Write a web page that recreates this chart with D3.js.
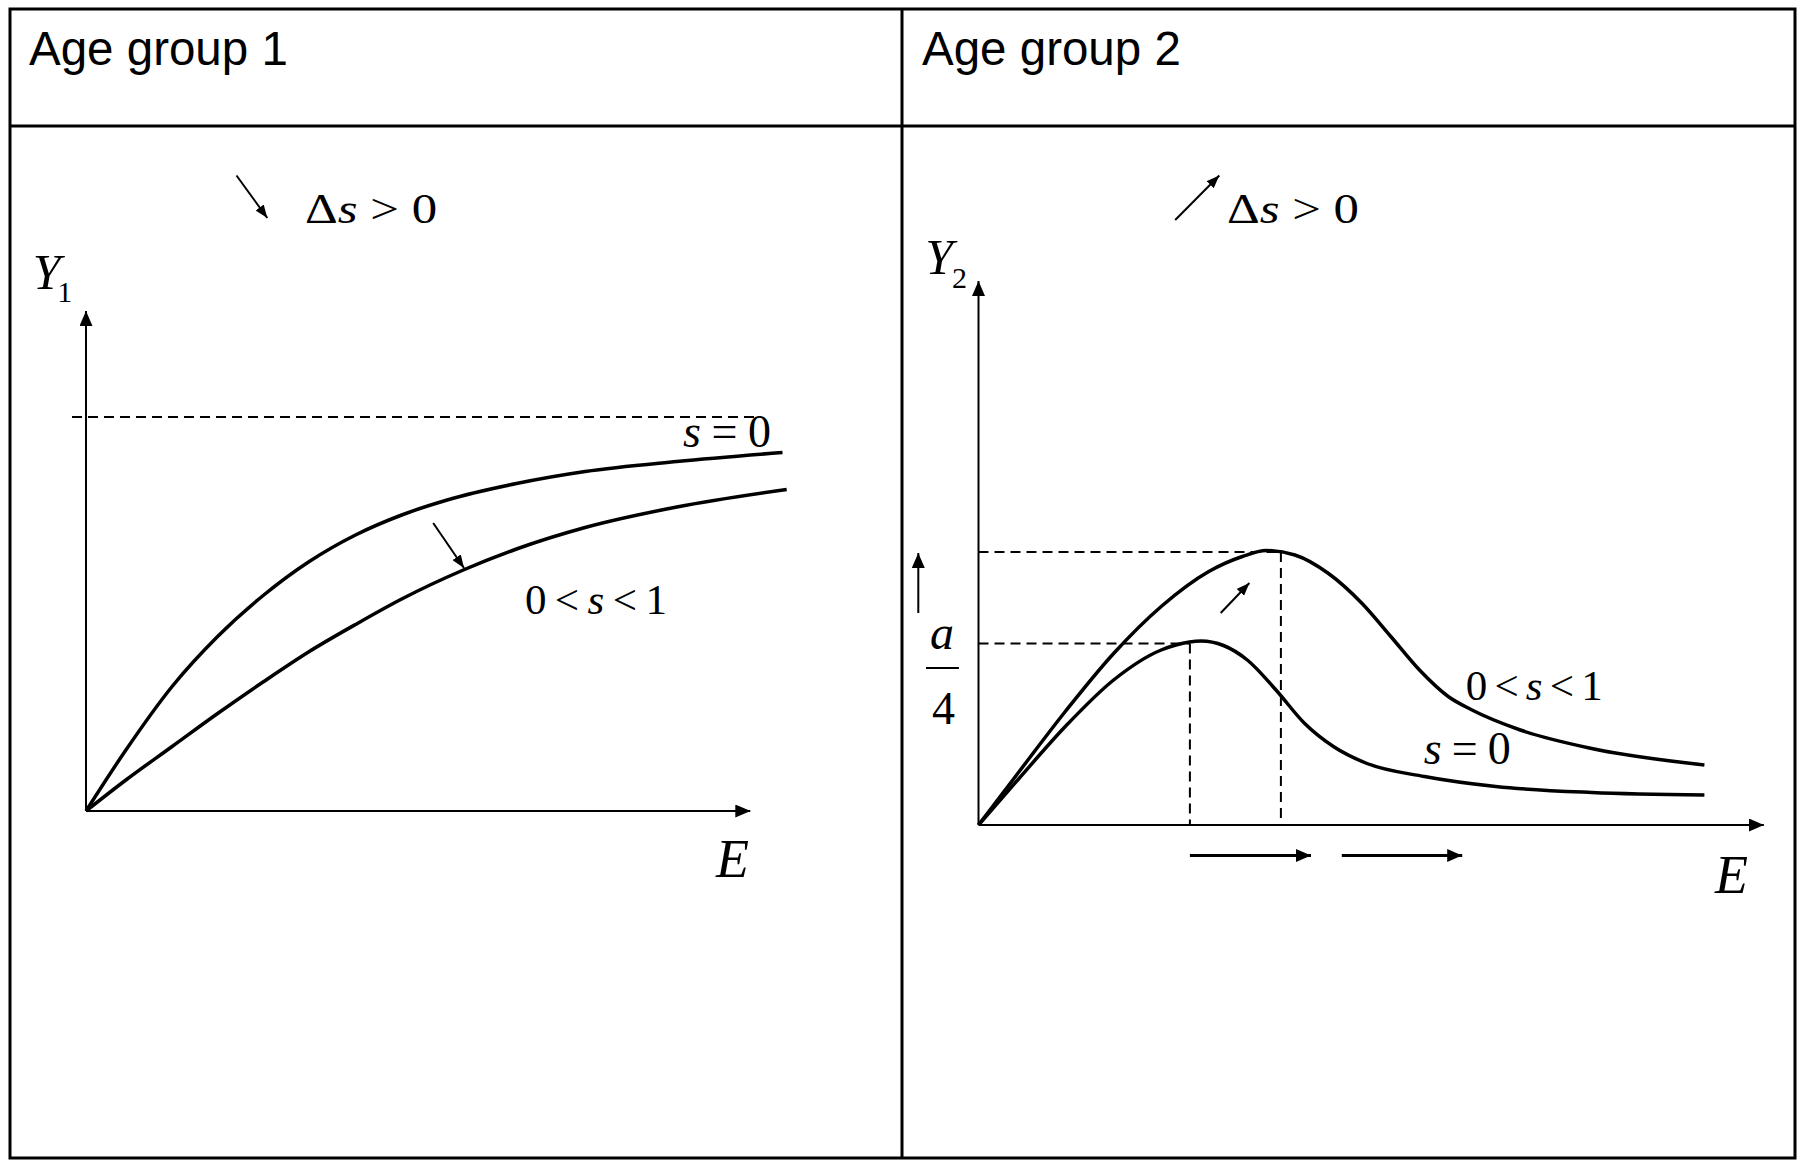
<!DOCTYPE html>
<html>
<head>
<meta charset="utf-8">
<script src="https://cdn.jsdelivr.net/npm/d3@7"></script>
<style>
body { margin: 0; background: #fff; }
svg { display: block; }
text { white-space: pre; }
</style>
</head>
<body>
<svg id="display"></svg>
<script>
"use strict";

var width = 1798,
    height = 1163;

var titles = ['Age group 1', 'Age group 2'];

// age group 1: Y1 against E, values in chart units
var g1ZeroS = [[0,0],[0.57,1.22],[1.23,2.49],[1.88,3.49],[2.54,4.32],[3.19,4.99],[3.85,5.52],[4.51,5.92],[5.16,6.22],[6.15,6.55],[7.13,6.79],[8.44,6.99],[9.95,7.17]];
var g1MidS = [[0,0],[0.57,0.62],[1.23,1.29],[1.88,1.95],[2.54,2.59],[3.19,3.19],[3.85,3.73],[4.51,4.24],[5.39,4.82],[6.15,5.24],[7.13,5.67],[8.44,6.08],[10.01,6.43]];
var g1Ceiling = 7.88;
var g1AxisEnd = [9.49, 10];

// age group 2: Y2 against E
var g2ZeroS = [[0,0],[0.56,0.90],[1.24,1.97],[1.93,2.90],[2.61,3.50],[2.82,3.60],[3.18,3.68],[3.50,3.59],[3.84,3.30],[4.25,2.70],[4.66,2.03],[5.07,1.57],[5.55,1.23],[6.37,0.97],[7.39,0.77],[8.76,0.65],[10.37,0.60]];
var g2MidS = [[0,0],[0.56,1.03],[1.24,2.27],[1.93,3.43],[2.61,4.37],[3.29,5.07],[3.77,5.37],[4.11,5.49],[4.52,5.40],[5.00,5.03],[5.48,4.43],[5.89,3.77],[6.30,3.10],[6.71,2.57],[7.05,2.30],[7.74,1.90],[8.76,1.53],[10.37,1.20]];
var g2Peaks = [[3.02,3.63],[4.32,5.46]];
var g2AxisEnd = [11.22, 10.88];

var serif = 'Liberation Serif, Times New Roman, serif';

var svg = d3.select('#display')
  .attr('width', width)
  .attr('height', height);

svg.append('rect')
  .attr('width', width)
  .attr('height', height)
  .attr('fill', 'white');

var defs = svg.append('defs');
function addHead(id, len, wid) {
	defs.append('marker')
	  .attr('id', id)
	  .attr('viewBox', '0 0 10 10')
	  .attr('refX', 10)
	  .attr('refY', 5)
	  .attr('markerUnits', 'userSpaceOnUse')
	  .attr('markerWidth', len)
	  .attr('markerHeight', wid)
	  .attr('preserveAspectRatio', 'none')
	  .attr('orient', 'auto')
	  .append('path')
	  .attr('d', 'M0,0L10,5L0,10Z')
	  .attr('fill', 'black');
}
addHead('big', 15, 13);
addHead('small', 13, 10);

// frame: outer box, header row, middle divider
svg.append('rect')
  .attr('x', 10).attr('y', 9)
  .attr('width', 1785).attr('height', 1149)
  .attr('fill', 'none')
  .attr('stroke', 'black')
  .attr('stroke-width', 3);
svg.append('line')
  .attr('x1', 10).attr('x2', 1795)
  .attr('y1', 126).attr('y2', 126)
  .attr('stroke', 'black').attr('stroke-width', 3);
svg.append('line')
  .attr('x1', 902).attr('x2', 902)
  .attr('y1', 9).attr('y2', 1158)
  .attr('stroke', 'black').attr('stroke-width', 3);

svg.selectAll('.title').data(titles).enter().append('text')
  .attr('class', 'title')
  .attr('x', function(d, i){ return i == 0 ? 29 : 922; })
  .attr('y', 65)
  .attr('font-family', 'Liberation Sans, Arial, sans-serif')
  .attr('font-size', 47.5)
  .text(function(d){ return d; });

var x1 = d3.scaleLinear().domain([0, 10]).range([86, 786]);
var y1 = d3.scaleLinear().domain([0, 10]).range([811, 311]);
var x2 = d3.scaleLinear().domain([0, 10]).range([978.5, 1678.5]);
var y2 = d3.scaleLinear().domain([0, 10]).range([825, 325]);

function seg(g, x, y, a, b, w, head) {
	var l = g.append('line')
	  .attr('x1', x(a[0])).attr('y1', y(a[1]))
	  .attr('x2', x(b[0])).attr('y2', y(b[1]))
	  .attr('stroke', 'black')
	  .attr('stroke-width', w);
	if (head) l.attr('marker-end', 'url(#' + head + ')');
	return l;
}

function curve(g, x, y, pts) {
	var line = d3.line()
	  .x(function(d){ return x(d[0]); })
	  .y(function(d){ return y(d[1]); })
	  .curve(d3.curveMonotoneX);
	g.append('path')
	  .attr('d', line(pts))
	  .attr('fill', 'none')
	  .attr('stroke', 'black')
	  .attr('stroke-width', 3.5)
	  .attr('stroke-linejoin', 'round');
}

// parts: [text, italic?]; len stretches the whole run to the measured width
function mathLabel(g, px, py, parts, size, len, adjust) {
	var t = g.append('text')
	  .attr('x', px).attr('y', py)
	  .attr('font-family', serif)
	  .attr('font-size', size);
	parts.forEach(function(p){
		t.append('tspan')
		  .attr('font-style', p[1] ? 'italic' : 'normal')
		  .text(p[0]);
	});
	if (len) t.attr('textLength', len).attr('lengthAdjust', adjust || 'spacingAndGlyphs');
	return t;
}

// ---- panel 1 ----
var p1 = svg.append('g').attr('id', 'group1');

seg(p1, x1, y1, [0, 0], [g1AxisEnd[0], 0], 2, 'big');
seg(p1, x1, y1, [0, 0], [0, g1AxisEnd[1]], 2, 'big');
seg(p1, x1, y1, [-0.2, g1Ceiling], [9.56, g1Ceiling], 2).attr('stroke-dasharray', '10,6');

curve(p1, x1, y1, g1ZeroS);
curve(p1, x1, y1, g1MidS);

seg(p1, x1, y1, [4.96, 5.76], [5.40, 4.86], 2, 'small');
seg(p1, x1, y1, [2.15, 12.71], [2.59, 11.86], 2, 'small');

mathLabel(p1, x1(3.13), y1(11.76), [['Δ'], ['s', 1], [' > 0']], 43, 132);
mathLabel(p1, x1(8.53), y1(7.28), [['s', 1], [' = 0']], 46, 88, 'spacing');
mathLabel(p1, x1(6.27), y1(3.94), [['0 < '], ['s', 1], [' < 1']], 43, 142, 'spacing');
mathLabel(p1, x1(9.00), y1(-1.32), [['E', 1]], 54);
mathLabel(p1, x1(-0.76), y1(10.44), [['Y', 1]], 50);
mathLabel(p1, x1(-0.41), y1(10.18), [['1']], 30);

// ---- panel 2 ----
var p2 = svg.append('g').attr('id', 'group2');

seg(p2, x2, y2, [0, 0], [g2AxisEnd[0], 0], 2, 'big');
seg(p2, x2, y2, [0, 0], [0, g2AxisEnd[1]], 2, 'big');

g2Peaks.forEach(function(p){
	seg(p2, x2, y2, [0, p[1]], [p[0], p[1]], 2).attr('stroke-dasharray', '10,6');
	seg(p2, x2, y2, [p[0], p[1]], [p[0], 0], 2).attr('stroke-dasharray', '10,6');
});

curve(p2, x2, y2, g2ZeroS);
curve(p2, x2, y2, g2MidS);

seg(p2, x2, y2, [3.46, 4.24], [3.87, 4.84], 2, 'small');
seg(p2, x2, y2, [2.81, 12.10], [3.44, 12.99], 2, 'small');
seg(p2, x2, y2, [-0.86, 4.24], [-0.86, 5.44], 2, 'big');
seg(p2, x2, y2, [3.02, -0.61], [4.75, -0.61], 3, 'big');
seg(p2, x2, y2, [5.19, -0.61], [6.91, -0.61], 3, 'big');

mathLabel(p2, x2(3.55), y2(12.04), [['Δ'], ['s', 1], [' > 0']], 43, 132);
mathLabel(p2, x2(6.96), y2(2.5), [['0 < '], ['s', 1], [' < 1']], 43, 137, 'spacing');
mathLabel(p2, x2(6.36), y2(1.22), [['s', 1], [' = 0']], 46, 87, 'spacing');
mathLabel(p2, x2(10.52), y2(-1.36), [['E', 1]], 54);
mathLabel(p2, x2(-0.76), y2(11.02), [['Y', 1]], 50);
mathLabel(p2, x2(-0.38), y2(10.74), [['2']], 30);

// a/4 fraction on the Y2 axis
mathLabel(p2, x2(-0.52), y2(3.52), [['a', 1]], 48).attr('text-anchor', 'middle');
seg(p2, x2, y2, [-0.75, 3.14], [-0.28, 3.14], 2);
mathLabel(p2, x2(-0.50), y2(2.02), [['4']], 46).attr('text-anchor', 'middle');
</script>
</body>
</html>
